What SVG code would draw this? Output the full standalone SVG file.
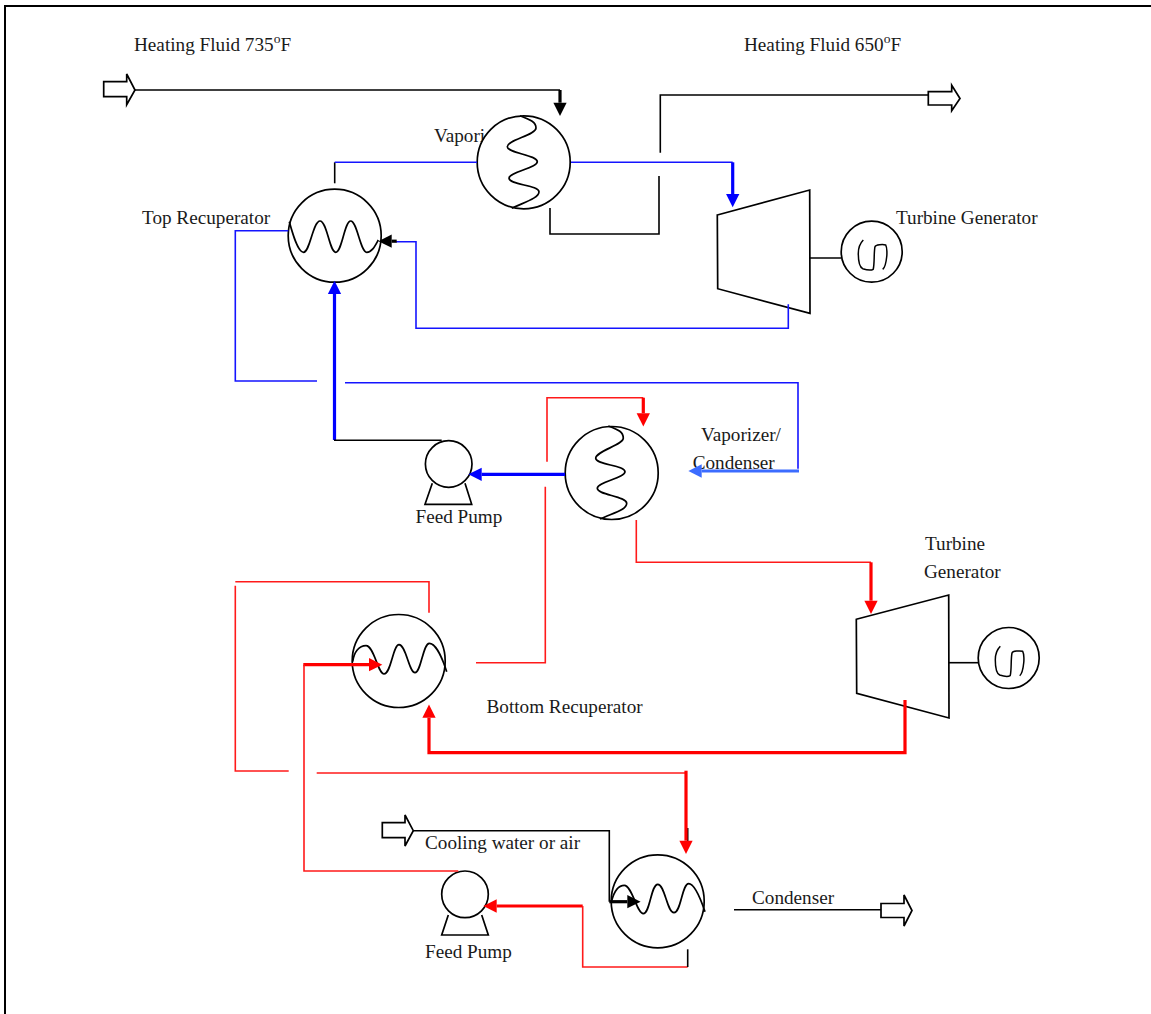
<svg xmlns="http://www.w3.org/2000/svg" width="1151" height="1014" viewBox="0 0 1151 1014">
<style>
text{font-family:"Liberation Serif","Times New Roman",serif;font-size:19.2px;fill:#1a1a1a}
.sup{font-size:13.5px}
.eq{fill:#fff;stroke:#000;stroke-width:1.7}
.ln{fill:none;stroke:#000;stroke-width:1.7}
.k{fill:none;stroke:#000;stroke-width:1.6}
.kt{fill:none;stroke:#000;stroke-width:3.2}
.b{fill:none;stroke:#1414ff;stroke-width:1.6}
.bt{fill:none;stroke:#0000ff;stroke-width:3.2}
.lb{fill:none;stroke:#3c6cff;stroke-width:3}
.r{fill:none;stroke:#ff1a1a;stroke-width:1.6}
.rt{fill:none;stroke:#ff0000;stroke-width:3.2}
</style>
<defs>
<marker id="hk" markerUnits="userSpaceOnUse" markerWidth="14" markerHeight="14" refX="0" refY="6.65" orient="auto" overflow="visible"><path d="M0,0L13.3,6.65L0,13.3Z" fill="#000"/></marker>
<marker id="hb" markerUnits="userSpaceOnUse" markerWidth="14" markerHeight="14" refX="0" refY="6.65" orient="auto" overflow="visible"><path d="M0,0L13.3,6.65L0,13.3Z" fill="#0000ff"/></marker>
<marker id="hl" markerUnits="userSpaceOnUse" markerWidth="14" markerHeight="14" refX="0" refY="6.65" orient="auto" overflow="visible"><path d="M0,0L13.3,6.65L0,13.3Z" fill="#3c6cff"/></marker>
<marker id="hr" markerUnits="userSpaceOnUse" markerWidth="14" markerHeight="14" refX="0" refY="6.65" orient="auto" overflow="visible"><path d="M0,0L13.3,6.65L0,13.3Z" fill="#ff0000"/></marker>
<path id="gen" d="M-8.4,-11.7C-12,-8 -13.4,-3 -13.4,1.7C-13.4,9 -12,15.5 -9,17C-5,18.3 0,18.5 1.5,17.6C3,12 2,1 3.3,-5C4,-7 11,-7.5 14,-6.7C15.5,-4 15.3,3 15,5C14.5,10 13,16 11,17.7" fill="none" stroke="#000" stroke-width="1.5"/>
</defs>
<g id="border"><path d="M5,1014V6H1151" fill="none" stroke="#000" stroke-width="2"/></g>
<g id="heating-inlet"><text x="134" y="51">Heating Fluid 735<tspan class="sup" dy="-7.7">o</tspan><tspan dy="7.7">F</tspan></text>
<path class="eq" d="M103.7,81.7H126.7V74L135,90L126.7,104.7V96.7H103.7Z"/></g>
<g id="heating-outlet"><text x="744" y="51">Heating Fluid 650<tspan class="sup" dy="-7.7">o</tspan><tspan dy="7.7">F</tspan></text>
<path class="eq" d="M928.3,91.7H951.7V85.3L960,98.5L951.7,110.7V105H928.3Z"/></g>
<g id="vaporizer"><text x="434" y="142">Vapori</text>
<circle class="eq" cx="523.7" cy="162.3" r="46.5"/>
<path class="ln" d="M520,115.7C531,120 536,122 536,128C536,135 507.3,140 507.3,146.7C507.3,153 537.3,155 537.3,161.7C537.3,168 509,172 509,178.3C509,185 539,185 539,191.7C539,198 525,202 511.7,208.3"/></g>
<g id="top-recuperator"><text x="142" y="224">Top Recuperator</text>
<circle class="eq" cx="334.7" cy="235.7" r="46.5"/>
<path class="ln" d="M289.3,221.7C293,235 298,252.3 303.5,252.3C310,252.3 313,221 320,221C327,221 329.5,252.3 335.7,252.3C342,252.3 344.5,221 350.7,221C357,221 360.5,252.3 366.7,252.3C372,252.3 375,246 378.3,240"/></g>
<g id="turbine-generator-top"><text x="896" y="224">Turbine Generator</text>
<path class="eq" d="M717.3,215L809.7,190L810,313.3L717.7,288.7Z"/>
<path class="k" d="M809,258H841.5"/>
<circle class="eq" cx="871.7" cy="251.7" r="30.5"/>
<use href="#gen" x="871.7" y="251.7"/></g>
<g id="feed-pump-top"><text x="415.5" y="522.7">Feed Pump</text>
<path class="eq" d="M432.3,483.3L425,504.3H471.7L465,483.3"/>
<circle class="eq" cx="448.7" cy="464" r="23.3"/></g>
<g id="vaporizer-condenser"><text x="701" y="441">Vaporizer/</text><text x="692.7" y="469">Condenser</text>
<circle class="eq" cx="611.7" cy="473" r="46.5"/>
<path class="ln" d="M608.3,426C619,430 623.3,432 623.3,438.3C623.3,445 595.7,451 595.7,458.3C595.7,465 625,465 625,471.7C625,478 597.3,482 597.3,488.3C597.3,495 626.7,496 626.7,503.3C626.7,510 613,513 600,519"/></g>
<g id="bottom-recuperator"><text x="486.5" y="713">Bottom Recuperator</text>
<circle class="eq" cx="398.7" cy="661" r="46.5"/>
<path class="ln" d="M352.7,661.7C354,652 359,645.7 366,645.7C374,645.7 378,674 384,674C391,674 393,644.7 399,644.7C406,644.7 409,672.7 415,672.7C421,672.7 423,643.3 429.3,643.3C436,643.3 443,660 446.7,671.7"/></g>
<g id="turbine-generator-bottom"><text x="925" y="550">Turbine</text><text x="924" y="578">Generator</text>
<path class="eq" d="M856.3,619.3L948.7,595L949,718L856.7,693.3Z"/>
<path class="k" d="M948,662.7H979"/>
<circle class="eq" cx="1008.7" cy="658" r="30.5"/>
<use href="#gen" x="1008.7" y="658"/></g>
<g id="cooling-inlet"><text x="425" y="849">Cooling water or air</text>
<path class="eq" d="M382.3,822.7H405V815L413.3,830.7L405,846V837.7H382.3Z"/></g>
<g id="feed-pump-bottom"><text x="425" y="957.7">Feed Pump</text>
<path class="eq" d="M448.3,915L441.7,935H488.3L481.7,915"/>
<circle class="eq" cx="465" cy="894.3" r="23.3"/></g>
<g id="condenser"><text x="752" y="904">Condenser</text>
<circle class="eq" cx="657.7" cy="901.3" r="46.5"/>
<path class="ln" d="M611.7,900.7C614,892 618,885.3 624.3,885.3C632,885.3 637,913.7 643.3,913.7C650,913.7 651,884.3 657.7,884.3C665,884.3 667,912.7 674,912.7C681,912.7 682,883.7 688.7,883.7C695,883.7 701,900 705,911.7"/>
<path class="eq" d="M881,903.5H904V895L912,910.5L904,926V917.5H881Z"/></g>
<g id="connectors">
<path class="k" d="M135,90H560"/>
<path class="kt" d="M560,90V102.7" marker-end="url(#hk)"/>
<path class="k" d="M660.3,152.7V95H928.3"/>
<path class="k" d="M659,176V234H550V208"/>
<path class="b" d="M571,162.3H732.7"/>
<path class="bt" d="M732.7,162.3V194" marker-end="url(#hb)"/>
<path class="k" d="M334.7,183.3V162.3"/>
<path class="b" d="M334.7,162.3H477"/>
<path class="b" d="M288.3,230.7H235.3V381H317"/>
<path class="b" d="M345,382.7H798V468.7"/>
<path class="lb" d="M799,471H701.7" marker-end="url(#hl)"/>
<path class="b" d="M788.3,304.3V328.3H416V241.7H396"/>
<path class="kt" d="M396.7,241.2H391.7" marker-end="url(#hk)"/>
<path class="bt" d="M334.5,440V294" marker-end="url(#hb)"/>
<path class="k" d="M334,440.3H441.7"/>
<path class="bt" d="M565,474.3H481.7" marker-end="url(#hb)"/>
<path class="r" d="M547,461.7V397.7H643.3"/>
<path class="rt" d="M643.3,397.7V413.3" marker-end="url(#hr)"/>
<path class="r" d="M545.3,486.7V662.7H476"/>
<path class="r" d="M636.3,520V562.3H871"/>
<path class="rt" d="M871,562.3V600.7" marker-end="url(#hr)"/>
<path class="rt" d="M905,700V752.7H429V717.7" marker-end="url(#hr)"/>
<path class="r" d="M429,612.7V581.7H235.3"/>
<path class="r" d="M235.3,585.7V771H288.7"/>
<path class="r" d="M316.7,773H686"/>
<path class="k" d="M687.7,828V842"/>
<path class="rt" d="M686,770.7V840.7" marker-end="url(#hr)"/>
<path class="rt" d="M303.3,664.7H369" marker-end="url(#hr)"/>
<path class="r" d="M304,664.7V871H458.3"/>
<path class="k" d="M413.3,830.7H609.3V901.7"/>
<path class="kt" d="M609.3,901.7H627.3" marker-end="url(#hk)"/>
<path class="rt" d="M582.7,906H496.7" marker-end="url(#hr)"/>
<path class="r" d="M582.7,906V967H687.7"/>
<path class="k" d="M687.7,967V949.3"/>
<path class="k" d="M734,909.7H881"/>
</g>
</svg>
